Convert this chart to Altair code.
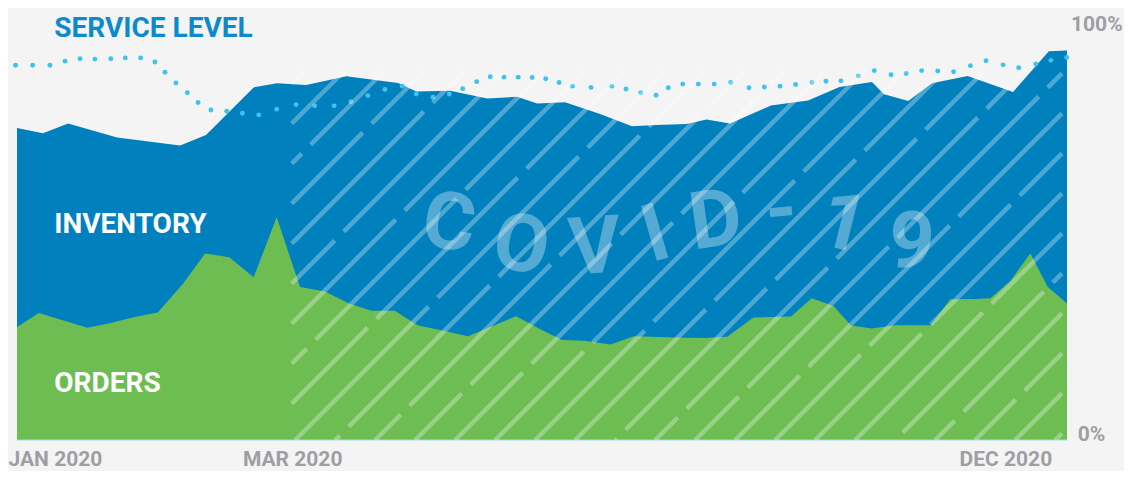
import altair as alt
import pandas as pd

# ---------------- data ----------------
# x = week index (0 = start of Jan 2020, 45 = Dec 2020), y = % of scale
inv_week = [0, 1.11, 2.19, 4.29, 6.99, 8.10, 10.14, 11.14, 12.39, 14.12,
            16.33, 17.12, 18.56, 20.16, 21.43, 22.29, 23.49, 24.99, 26.36, 27.39,
            28.69, 29.55, 30.56, 31.41, 32.31, 33.90, 35.25, 36.64, 37.16, 38.20,
            39.21, 40.74, 42.69, 44.22, 45]
inv_val = [76.1, 74.8, 77.2, 73.8, 71.8, 74.4, 86.0, 87.0, 86.6, 88.7,
           87.1, 85.0, 85.2, 83.3, 83.7, 82.1, 82.4, 79.5, 76.5, 76.8,
           77.1, 78.2, 77.2, 79.3, 81.6, 82.8, 86.1, 87.3, 84.3, 82.7,
           87.0, 88.8, 84.9, 94.8, 95.0]

ord_week = [0, 0.93, 3.02, 3.92, 5.04, 6.03, 7.10, 8.06, 9.10, 10.14,
            11.13, 12.13, 13.20, 14.23, 15.19, 16.19, 17.19, 18.33, 19.33, 21.39,
            22.47, 23.36, 24.32, 25.44, 26.44, 28.20, 29.50, 30.44, 31.56, 33.17,
            34.06, 34.99, 35.74, 36.64, 37.66, 39.15, 40.00, 41.13, 41.72, 42.57,
            43.43, 44.17, 45]
ord_val = [27.5, 31.0, 27.4, 28.4, 30.0, 31.1, 38.0, 45.5, 44.6, 39.7,
           54.3, 37.3, 36.2, 33.3, 31.5, 31.5, 27.9, 26.6, 25.3, 30.2,
           26.9, 24.4, 24.2, 23.3, 25.3, 25.0, 24.9, 25.2, 29.9, 30.1,
           34.6, 32.7, 27.9, 27.2, 28.0, 28.0, 34.3, 34.4, 34.6, 38.8,
           45.5, 37.4, 33.3]

svc_week = [-0.06, 0.67, 1.41, 2.06, 2.70, 3.34, 4.02, 4.64, 5.30, 5.91,
            6.34, 6.81, 7.30, 7.76, 8.31, 8.99, 9.66, 10.36, 11.13, 11.96,
            12.76, 13.59, 14.31, 15.04, 15.77, 16.51, 17.11, 17.83, 18.53, 19.10,
            19.70, 20.28, 20.87, 21.48, 22.08, 22.66, 23.23, 23.80, 24.60, 25.49,
            26.10, 26.73, 27.39, 27.91, 28.53, 29.20, 29.88, 30.59, 31.37, 32.03,
            32.70, 33.37, 34.07, 34.67, 35.31, 36.06, 36.74, 37.46, 38.10, 38.77,
            39.46, 40.14, 40.86, 41.53, 42.26, 42.93, 43.66, 44.31, 44.99]
svc_val = [91.4, 91.4, 91.4, 92.4, 93.0, 92.9, 93.0, 93.2, 93.2, 92.2,
           89.7, 87.1, 84.7, 82.3, 80.5, 80.2, 79.7, 79.3, 80.7, 81.8,
           81.5, 81.5, 82.5, 84.0, 85.5, 86.3, 84.4, 83.6, 84.4, 85.7,
           87.4, 88.6, 88.5, 88.5, 88.4, 88.1, 87.2, 86.3, 86.0, 86.3,
           85.6, 84.7, 84.1, 85.9, 86.8, 86.8, 86.8, 87.2, 85.9, 86.1,
           86.3, 86.7, 87.2, 87.5, 87.6, 88.8, 90.1, 89.1, 89.4, 90.1,
           90.0, 89.8, 91.3, 92.5, 91.5, 90.8, 91.7, 92.6, 93.3]

x_labels = ["JAN 2020", "MAR 2020", "DEC 2020"]
y_labels = ["100%", "0%"]
series_labels = ["SERVICE LEVEL", "INVENTORY", "ORDERS"]
covid_letters = ["C", "O", "V", "I", "D", "-", "1", "9"]

# ---------------- layout / style ----------------
W, H = 1050, 410
X_MAX = 45
PXW = W / X_MAX
PXV = H / 100.0

BG = "#f4f4f4"
BLUE = "#0081be"
GREEN = "#6dbd53"
DOT = "#3dc3ec"
TITLE_BLUE = "#0b8bcb"
GRAY = "#9e9ea3"
BASE_LINE = "#a3d8e6"

xs = alt.Scale(domain=[0, X_MAX], nice=False, zero=False)
ys = alt.Scale(domain=[0, 100], nice=False, zero=True)

inv_df = pd.DataFrame({"week": inv_week, "value": inv_val})
ord_df = pd.DataFrame({"week": ord_week, "value": ord_val})
svc_df = pd.DataFrame({"week": svc_week, "value": svc_val})

enc = dict(x=alt.X("week:Q", scale=xs, axis=None),
           y=alt.Y("value:Q", scale=ys, axis=None))

inventory = alt.Chart(inv_df).mark_area(color=BLUE, opacity=1).encode(**enc)
orders = alt.Chart(ord_df).mark_area(color=GREEN, opacity=1).encode(**enc)
service = alt.Chart(svc_df).mark_circle(color=DOT, size=24, opacity=1).encode(**enc)

baseline = alt.Chart(pd.DataFrame({"week": [0], "value": [0]})).mark_rule(
    color=BASE_LINE, strokeWidth=1.2
).encode(x=alt.X("week:Q", scale=xs, axis=None),
         x2=alt.value(W),
         y=alt.Y("value:Q", scale=ys, axis=None))

# ---------------- COVID period hatch (decoration) ----------------
HX0, HX1 = 274.7, 1045.0   # plot px
HY0, HY1 = 40.0, 410.0
P, GAP = 150.0, 9.0
rows = []


def add_seg(c, a, b):
    rows.append({"w1": a / PXW, "v1": (H - (c - a)) / PXV,
                 "w2": b / PXW, "v2": (H - (c - b)) / PXV})


for k in range(0, 45):
    c = 8.3 + 40 * k
    lo = max(HX0, c - HY1)
    hi = min(HX1, c - HY0)
    if hi - lo < 2:
        continue
    off = (k * 61) % P
    g = HX0 + off - P
    start = lo
    while g < hi:
        if g + GAP > start and g > start:
            add_seg(c, start, min(g, hi))
        if g + GAP > start:
            start = g + GAP
        g += P
    if start < hi:
        add_seg(c, start, hi)

hatch = alt.Chart(pd.DataFrame(rows)).mark_rule(
    color="white", opacity=0.3, strokeWidth=4.5, strokeCap="butt"
).encode(x=alt.X("w1:Q", scale=xs, axis=None),
         y=alt.Y("v1:Q", scale=ys, axis=None),
         x2="w2:Q", y2="v2:Q")

# ---------------- text ----------------
def label(txt, x, y, color, size, align="left", weight="bold", angle=0,
          baseline="alphabetic", opacity=1.0):
    return alt.Chart(pd.DataFrame({"label": [txt]})).mark_text(
        x=x, y=y, align=align, baseline=baseline, font="Roboto",
        fontWeight=weight, fontSize=size, color=color, angle=angle,
        opacity=opacity
    ).encode(text="label:N")


# letter placement (plot px centre, rotation)
covid_pos = [(432, 195, 8), (504, 217, 10), (578, 219, 356), (639, 206, 344),
             (699, 192, 352), (764, 182, 355), (826, 195, 14), (894, 214, 6)]
letters = [label(ch, px, py, "white", 80, align="center", weight="bold",
                 angle=a, baseline="middle", opacity=0.33)
           for ch, (px, py, a) in zip(covid_letters, covid_pos)]

texts = [
    label(series_labels[0], 37.3, 7.3, TITLE_BLUE, 28),
    label(series_labels[1], 37.3, 202.7, "white", 28),
    label(series_labels[2], 37.3, 361.7, "white", 28),
    label(x_labels[0], -8.5, 436, GRAY, 21),
    label(x_labels[1], 225.9, 436, GRAY, 21),
    label(x_labels[2], 942.6, 436, GRAY, 21),
    label(y_labels[0], 1054, 0.7, GRAY, 21),
    label(y_labels[1], 1060.7, 410.5, GRAY, 21),
]

chart = alt.layer(inventory, orders, baseline, service, hatch,
                  *letters, *texts).properties(
    width=W, height=H,
    padding={"left": 9, "top": 22, "right": 57, "bottom": 31},
    autosize=alt.AutoSizeParams(type="none"),
    background=BG,
).configure_view(stroke=None)

chart.save("out.html", embed_options={"renderer": "svg", "actions": False})
